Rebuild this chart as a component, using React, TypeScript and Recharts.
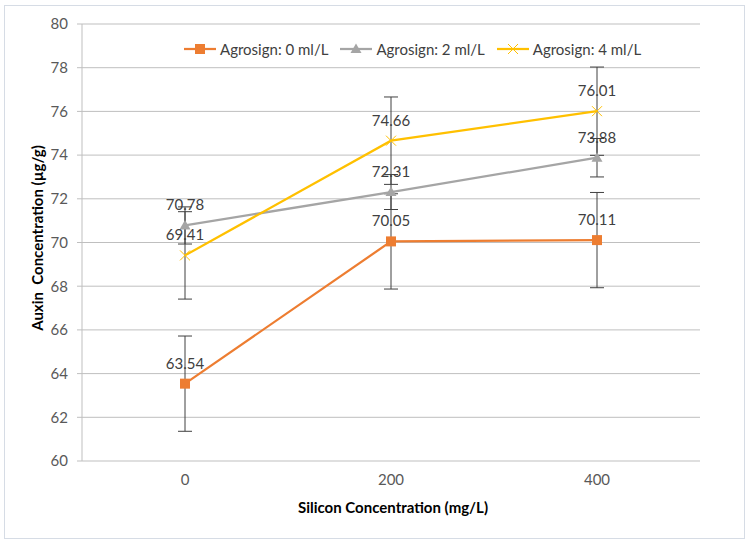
import React from "react"
import { LineChart, Line, XAxis, YAxis, CartesianGrid, ErrorBar, LabelList, Legend } from "recharts"

const silicon = [0, 200, 400]
const agro0 = [63.54, 70.05, 70.11]
const agro2 = [70.78, 72.31, 73.88]
const agro4 = [69.41, 74.66, 76.01]
const err0 = [2.18, 2.18, 2.18]
const err2 = [0.85, 0.8, 0.88]
const err4 = [2.0, 2.0, 2.02]
const yTicks = [60, 62, 64, 66, 68, 70, 72, 74, 76, 78, 80]
const xTicks = [0, 200, 400]
const xBounds = [-100, 100, 300, 500]

const data = silicon.map((s, i) => ({
  si: s,
  a0: agro0[i],
  a2: agro2[i],
  a4: agro4[i],
  e0: err0[i],
  e2: err2[i],
  e4: err4[i],
}))

const ORANGE = "#ED7D31"
const GRAY = "#A5A5A5"
const YELLOW = "#FFC000"
const FONT = "Lato, 'Open Sans', sans-serif"

const Square = (p: any) => (
  <rect key={p.key} x={p.cx - 5} y={p.cy - 5} width={10} height={10} fill={ORANGE} />
)
const Triangle = (p: any) => (
  <path key={p.key} d={`M${p.cx},${p.cy - 5.5} L${p.cx + 5.5},${p.cy + 4} L${p.cx - 5.5},${p.cy + 4} Z`} fill={GRAY} />
)
const Cross = (p: any) => (
  <path key={p.key} d={`M${p.cx - 5},${p.cy - 5} L${p.cx + 5},${p.cy + 5} M${p.cx + 5},${p.cy - 5} L${p.cx - 5},${p.cy + 5}`} stroke={YELLOW} strokeWidth={1} fill="none" />
)

const legendItems = [
  { name: "Agrosign: 0 ml/L", color: ORANGE, Icon: Square },
  { name: "Agrosign: 2 ml/L", color: GRAY, Icon: Triangle },
  { name: "Agrosign: 4 ml/L", color: YELLOW, Icon: Cross },
]

const renderLegend = () => (
  <div style={{ display: "flex", alignItems: "center", fontFamily: FONT, fontSize: 15, color: "#404040" }}>
    {legendItems.map((it) => (
      <div key={it.name} style={{ display: "flex", alignItems: "center", marginRight: 12 }}>
        <svg width={32} height={12} style={{ marginRight: 4 }}>
          <line x1={0} y1={6} x2={32} y2={6} stroke={it.color} strokeWidth={2.25} />
          <it.Icon cx={16} cy={6} />
        </svg>
        <span>{it.name}</span>
      </div>
    ))}
  </div>
)

export default function App() {
  const labelStyle = { fill: "#404040", fontSize: 15, fontFamily: FONT }
  return (
    <div style={{ position: "absolute", left: 0, top: 0, width: 747, height: 543, background: "#fff" }}>
      <div style={{ position: "absolute", left: 4, top: 5, width: 739, height: 532, border: "1px solid #d6dce5" }} />
      <LineChart
        width={747}
        height={543}
        data={data}
        margin={{ top: 24, right: 47, bottom: 52, left: 0 }}
      >
        <CartesianGrid vertical={false} stroke="#bfbfbf" />
        <XAxis
          xAxisId="bounds"
          dataKey="si"
          type="number"
          domain={[-100, 500]}
          ticks={xBounds}
          tick={false}
          tickSize={5}
          tickLine={{ stroke: "#bfbfbf" }}
          axisLine={{ stroke: "#bfbfbf" }}
          height={0}
        />
        <XAxis
          dataKey="si"
          type="number"
          domain={[-100, 500]}
          ticks={xTicks}
          tickLine={false}
          axisLine={false}
          tickSize={5}
          tickMargin={8}
          height={30}
          tick={{ fill: "#595959", fontSize: 15, fontFamily: FONT }}
        />
        <YAxis
          domain={[60, 80]}
          ticks={yTicks}
          width={82}
          tickSize={5}
          tickMargin={9}
          axisLine={{ stroke: "#bfbfbf" }}
          tickLine={{ stroke: "#bfbfbf" }}
          tick={{ fill: "#595959", fontSize: 15, fontFamily: FONT }}
        />
        <Legend
          layout="horizontal"
          verticalAlign="middle"
          align="center"
          content={renderLegend}
          wrapperStyle={{ top: 40, left: 184, width: "auto" }}
        />
        <Line dataKey="a0" stroke={ORANGE} strokeWidth={2.25} dot={Square} activeDot={false} isAnimationActive={false}>
          <ErrorBar dataKey="e0" direction="y" width={7} stroke="#404040" strokeWidth={1} />
          <LabelList dataKey="a0" position="top" offset={15} style={labelStyle} />
        </Line>
        <Line dataKey="a2" stroke={GRAY} strokeWidth={2.25} dot={Triangle} activeDot={false} isAnimationActive={false}>
          <ErrorBar dataKey="e2" direction="y" width={7} stroke="#404040" strokeWidth={1} />
          <LabelList dataKey="a2" position="top" offset={15} style={labelStyle} />
        </Line>
        <Line dataKey="a4" stroke={YELLOW} strokeWidth={2.25} dot={Cross} activeDot={false} isAnimationActive={false}>
          <ErrorBar dataKey="e4" direction="y" width={7} stroke="#404040" strokeWidth={1} />
          <LabelList dataKey="a4" position="top" offset={15} style={labelStyle} />
        </Line>
      </LineChart>
      <div
        style={{
          position: "absolute",
          left: 37,
          top: 238,
          transform: "translate(-50%, -50%) rotate(-90deg)",
          whiteSpace: "pre",
          fontFamily: FONT,
          fontWeight: "bold",
          fontSize: 15,
          color: "#000",
        }}
      >
        {"Auxin  Concentration (µg/g)"}
      </div>
      <div
        style={{
          position: "absolute",
          left: 393,
          top: 507,
          transform: "translate(-50%, -50%)",
          whiteSpace: "nowrap",
          fontFamily: FONT,
          fontWeight: "bold",
          fontSize: 15,
          color: "#000",
        }}
      >
        Silicon Concentration (mg/L)
      </div>
    </div>
  )
}
